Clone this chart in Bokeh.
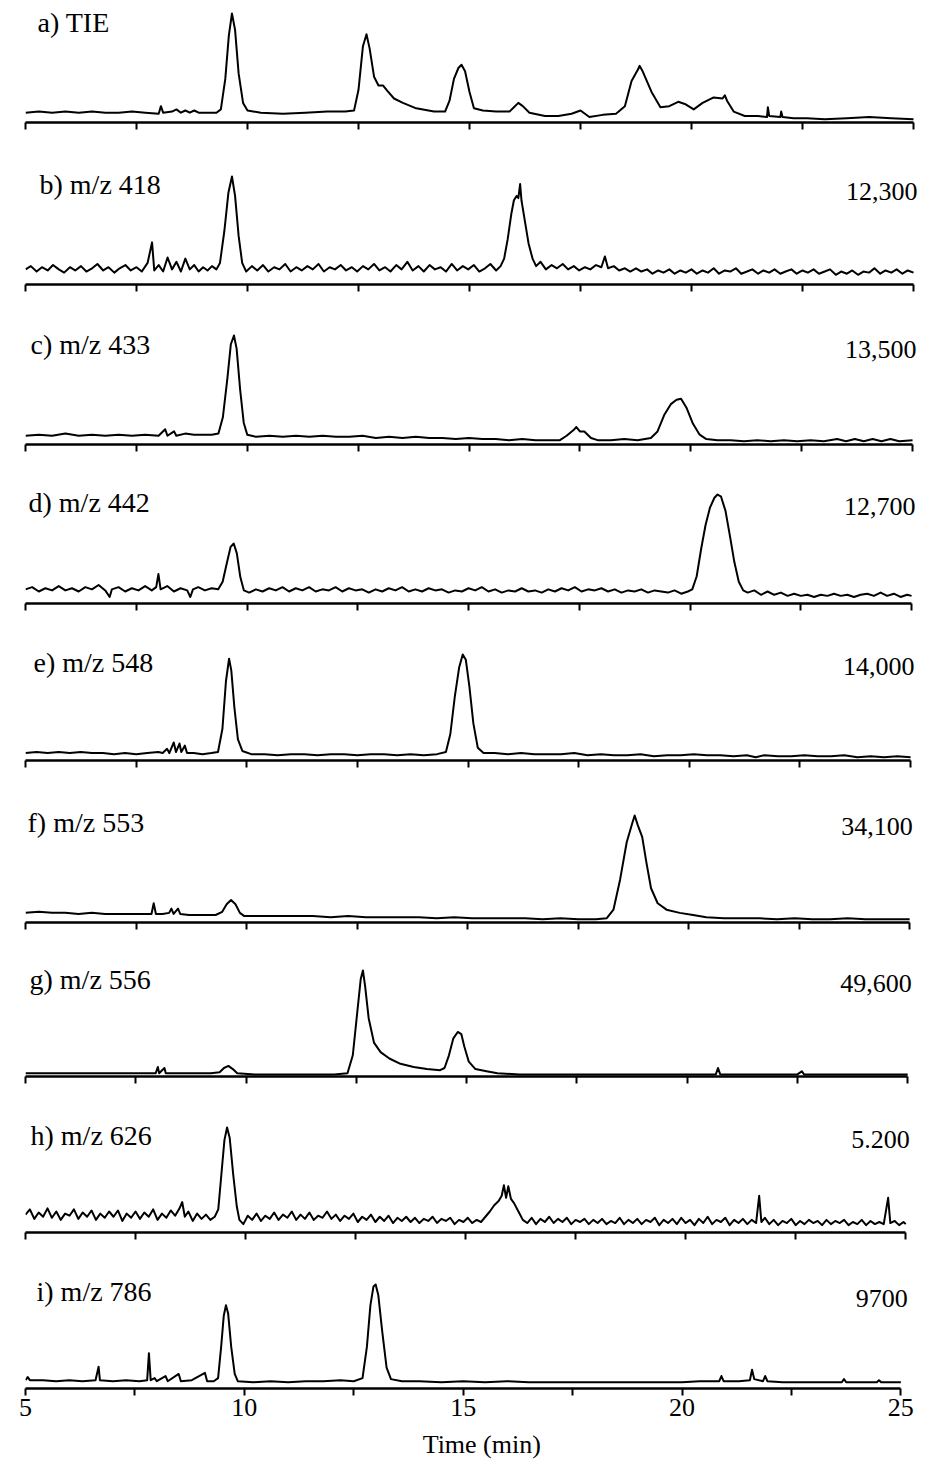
from bokeh.plotting import figure
from bokeh.layouts import column
from bokeh.models import Range1d, FixedTicker, Label
from bokeh.embed import file_html
from bokeh.resources import INLINE

# ---------------- data (relative intensity, % of tallest peak in each trace) ----------------
panel_labels = ["a) TIE", "b) m/z 418", "c) m/z 433", "d) m/z 442", "e) m/z 548",
                "f) m/z 553", "g) m/z 556", "h) m/z 626", "i) m/z 786"]
panel_counts = ["", "12,300", "13,500", "12,700", "14,000", "34,100", "49,600", "5.200", "9700"]
major_ticks = [5, 10, 15, 20, 25]
minor_ticks = [7.5, 12.5, 17.5, 22.5]
x_title = "Time (min)"

trace_a = [(5.0,9),(5.3,10),(5.6,9),(5.9,10),(6.2,9),(6.5,10),(6.8,9),(7.1,9),(7.4,10),(7.7,9),(8.0,8),(8.05,15),(8.1,9),(8.3,10),(8.4,12),(8.5,9),(8.6,11),(8.7,9),(8.8,11),(8.9,9),(9.1,9),(9.3,9),(9.4,12),(9.5,40),(9.58,80),(9.65,100),(9.72,85),(9.8,45),(9.9,18),(10.0,11),(10.3,9),(10.8,8),(11.3,9),(11.8,10),(12.2,10),(12.4,11),(12.5,30),(12.6,70),(12.68,81),(12.75,68),(12.85,42),(12.95,34),(13.05,34),(13.15,29),(13.3,22),(13.5,18),(13.8,13),(14.2,10),(14.45,10),(14.55,20),(14.65,40),(14.75,50),(14.82,53),(14.9,47),(15.0,28),(15.1,13),(15.3,11),(15.6,10),(15.9,10),(16.0,14),(16.1,18),(16.2,15),(16.35,9),(16.7,6),(17.0,6),(17.3,8),(17.5,11),(17.7,5),(18.0,7),(18.3,8),(18.5,15),(18.65,38),(18.8,49),(18.83,52),(18.9,47),(19.1,28),(19.3,14),(19.5,15),(19.7,19),(19.85,17),(20.05,12),(20.25,18),(20.5,23),(20.7,22),(20.75,25),(20.8,20),(20.95,10),(21.2,6),(21.5,6),(21.7,5),(21.72,14),(21.75,6),(22.0,5),(22.02,10),(22.05,5),(22.3,4),(22.6,4),(23.0,3),(23.5,4),(24.0,5),(24.5,4),(25.0,3)]

trace_b = [(5.0,14),(5.12,17),(5.25,12),(5.37,16),(5.5,13),(5.62,18),(5.75,14),(5.87,11),(6.0,16),(6.12,13),(6.25,17),(6.37,12),(6.5,15),(6.62,19),(6.75,13),(6.87,16),(7.0,11),(7.12,15),(7.25,18),(7.37,13),(7.5,16),(7.62,12),(7.75,20),(7.85,39),(7.9,13),(8.0,18),(8.1,12),(8.2,25),(8.3,14),(8.4,21),(8.5,12),(8.6,24),(8.7,14),(8.8,18),(8.9,12),(9.0,16),(9.1,13),(9.2,17),(9.3,14),(9.38,20),(9.48,50),(9.57,85),(9.65,100),(9.72,82),(9.8,45),(9.88,20),(9.97,12),(10.1,17),(10.22,13),(10.35,18),(10.47,12),(10.6,16),(10.72,14),(10.85,19),(10.97,12),(11.1,16),(11.22,13),(11.35,17),(11.47,14),(11.6,19),(11.72,12),(11.85,16),(11.97,14),(12.1,18),(12.22,13),(12.35,16),(12.47,12),(12.6,17),(12.72,14),(12.85,19),(12.97,13),(13.1,16),(13.22,12),(13.35,18),(13.47,14),(13.6,21),(13.72,13),(13.85,17),(13.97,12),(14.1,18),(14.22,14),(14.35,16),(14.47,12),(14.6,19),(14.72,13),(14.85,17),(14.97,14),(15.1,18),(15.22,12),(15.35,15),(15.47,19),(15.6,13),(15.7,17),(15.78,24),(15.86,42),(15.94,65),(16.0,78),(16.06,82),(16.1,80),(16.14,93),(16.17,78),(16.25,58),(16.33,38),(16.42,24),(16.5,17),(16.6,21),(16.72,14),(16.85,18),(16.97,15),(17.1,19),(17.22,14),(17.35,17),(17.47,13),(17.6,16),(17.72,14),(17.85,18),(17.97,16),(18.05,26),(18.12,15),(18.25,17),(18.37,13),(18.5,15),(18.62,12),(18.75,15),(18.87,12),(19.0,14),(19.12,10),(19.25,13),(19.37,11),(19.5,14),(19.62,10),(19.75,13),(19.87,11),(20.0,14),(20.12,10),(20.25,13),(20.37,11),(20.5,15),(20.62,10),(20.75,13),(20.87,12),(21.0,15),(21.12,10),(21.25,12),(21.37,14),(21.5,10),(21.62,13),(21.75,11),(21.87,14),(22.0,10),(22.12,12),(22.25,14),(22.37,10),(22.5,13),(22.62,11),(22.75,14),(22.87,10),(23.0,12),(23.12,14),(23.25,9),(23.37,12),(23.5,10),(23.62,13),(23.75,9),(23.87,12),(24.0,11),(24.12,15),(24.25,10),(24.37,13),(24.5,11),(24.62,14),(24.75,10),(24.87,13),(25.0,11)]

trace_c = [(5.0,8),(5.3,9),(5.6,8),(5.9,10),(6.2,8),(6.5,9),(6.8,8),(7.1,9),(7.4,8),(7.7,9),(8.0,8),(8.15,14),(8.2,8),(8.35,12),(8.4,8),(8.6,10),(8.8,9),(9.0,9),(9.2,9),(9.35,10),(9.45,25),(9.55,60),(9.63,92),(9.7,100),(9.76,88),(9.84,50),(9.92,20),(10.0,9),(10.2,7),(10.5,8),(10.8,7),(11.1,8),(11.4,7),(11.7,8),(12.0,7),(12.3,7),(12.6,8),(12.9,6),(13.2,7),(13.5,6),(13.8,7),(14.1,6),(14.4,6),(14.7,5),(15.0,6),(15.3,5),(15.6,5),(15.9,4),(16.2,5),(16.5,4),(16.8,4),(17.05,4),(17.2,8),(17.35,13),(17.42,16),(17.5,12),(17.6,12),(17.75,6),(17.9,4),(18.2,4),(18.5,5),(18.8,4),(19.1,6),(19.25,12),(19.4,27),(19.55,37),(19.68,41),(19.78,42),(19.9,34),(20.05,19),(20.2,9),(20.35,5),(20.6,4),(20.9,4),(21.2,3),(21.5,4),(21.8,3),(22.1,4),(22.4,3),(22.7,4),(23.0,3),(23.3,5),(23.5,3),(23.7,5),(23.9,3),(24.1,5),(24.3,3),(24.5,5),(24.7,3),(25.0,4)]

trace_d = [(5.0,13),(5.15,15),(5.3,11),(5.45,14),(5.6,12),(5.75,16),(5.9,12),(6.05,14),(6.2,11),(6.35,15),(6.5,13),(6.65,17),(6.8,12),(6.9,6),(6.95,13),(7.1,15),(7.25,11),(7.4,14),(7.55,12),(7.7,16),(7.85,12),(7.95,15),(8.0,27),(8.05,13),(8.2,16),(8.35,11),(8.5,14),(8.65,12),(8.72,6),(8.78,13),(8.9,15),(9.05,12),(9.2,14),(9.35,13),(9.45,20),(9.55,38),(9.63,52),(9.7,55),(9.77,46),(9.85,24),(9.93,12),(10.05,10),(10.2,13),(10.35,11),(10.5,14),(10.65,12),(10.8,15),(10.95,11),(11.1,14),(11.25,12),(11.4,15),(11.55,11),(11.7,13),(11.85,12),(12.0,15),(12.15,11),(12.3,14),(12.45,12),(12.6,13),(12.75,10),(12.9,13),(13.05,11),(13.2,14),(13.35,12),(13.5,15),(13.65,11),(13.8,13),(13.95,11),(14.1,14),(14.25,12),(14.4,13),(14.55,10),(14.7,12),(14.85,11),(15.0,14),(15.15,12),(15.3,15),(15.45,11),(15.6,13),(15.75,10),(15.9,12),(16.05,11),(16.2,14),(16.35,11),(16.5,12),(16.65,10),(16.8,13),(16.95,11),(17.1,14),(17.25,12),(17.4,15),(17.55,11),(17.7,13),(17.85,12),(18.0,14),(18.15,11),(18.3,13),(18.45,10),(18.6,12),(18.75,11),(18.9,13),(19.05,10),(19.2,12),(19.35,11),(19.5,10),(19.65,12),(19.8,9),(19.95,11),(20.05,13),(20.15,25),(20.25,50),(20.35,72),(20.45,88),(20.55,97),(20.62,100),(20.7,98),(20.8,85),(20.9,62),(21.0,38),(21.1,20),(21.2,12),(21.3,10),(21.45,12),(21.6,8),(21.75,11),(21.9,8),(22.05,10),(22.2,7),(22.35,9),(22.5,7),(22.65,8),(22.8,6),(22.95,8),(23.1,7),(23.25,9),(23.4,7),(23.55,8),(23.7,6),(23.85,8),(24.0,9),(24.15,7),(24.3,10),(24.45,7),(24.6,9),(24.75,6),(24.9,8),(25.0,7)]

trace_e = [(5.0,7),(5.25,8),(5.5,7),(5.75,8),(6.0,7),(6.25,8),(6.5,7),(6.75,7),(7.0,6),(7.25,7),(7.5,6),(7.75,7),(8.0,8),(8.1,7),(8.2,11),(8.25,7),(8.35,17),(8.4,8),(8.48,16),(8.52,8),(8.6,14),(8.65,7),(8.8,7),(9.0,6),(9.2,7),(9.35,8),(9.45,30),(9.53,75),(9.6,96),(9.65,85),(9.72,50),(9.8,20),(9.9,9),(10.1,6),(10.4,6),(10.7,5),(11.0,6),(11.3,6),(11.6,5),(11.9,6),(12.2,6),(12.5,5),(12.8,6),(13.1,6),(13.4,5),(13.7,6),(14.0,5),(14.3,6),(14.5,8),(14.6,25),(14.7,60),(14.8,88),(14.88,100),(14.95,95),(15.03,70),(15.12,35),(15.22,12),(15.35,7),(15.6,7),(15.9,6),(16.2,7),(16.5,6),(16.8,6),(17.1,6),(17.4,7),(17.7,5),(18.0,6),(18.3,5),(18.6,5),(18.9,6),(19.2,4),(19.5,5),(19.8,5),(20.1,6),(20.4,5),(20.7,5),(21.0,4),(21.3,5),(21.5,3),(21.7,5),(22.0,4),(22.3,4),(22.6,5),(22.9,4),(23.2,4),(23.5,5),(23.8,3),(24.1,4),(24.4,3),(24.7,4),(25.0,3)]

trace_f = [(5.0,9),(5.3,10),(5.6,9),(5.9,9),(6.2,8),(6.5,9),(6.8,8),(7.1,8),(7.4,8),(7.7,8),(7.85,8),(7.9,18),(7.95,8),(8.1,8),(8.25,9),(8.3,13),(8.35,8),(8.45,13),(8.5,8),(8.7,7),(8.9,7),(9.1,7),(9.3,7),(9.45,10),(9.55,17),(9.65,21),(9.75,17),(9.85,9),(9.95,6),(10.3,6),(10.7,6),(11.1,6),(11.5,6),(11.9,5),(12.3,6),(12.7,5),(13.1,5),(13.5,5),(13.9,5),(14.3,4),(14.7,5),(15.1,4),(15.5,4),(15.9,4),(16.3,4),(16.7,3),(17.1,4),(17.5,3),(17.9,3),(18.15,4),(18.3,12),(18.45,40),(18.6,75),(18.72,92),(18.78,100),(18.85,91),(18.95,80),(19.05,55),(19.15,32),(19.3,18),(19.5,12),(19.8,9),(20.1,7),(20.4,5),(20.8,4),(21.2,4),(21.6,4),(22.0,3),(22.4,4),(22.8,3),(23.2,3),(23.6,4),(24.0,3),(24.4,3),(24.8,3),(25.0,3)]

trace_g = [(5.0,3),(5.5,3),(6.0,3),(6.5,3),(7.0,3),(7.5,3),(7.95,3),(8.0,9),(8.03,3),(8.15,8),(8.18,3),(8.4,3),(8.8,3),(9.2,3),(9.4,4),(9.5,8),(9.6,10),(9.7,7),(9.8,3),(10.2,2),(10.8,2),(11.4,2),(12.0,2),(12.3,3),(12.42,20),(12.52,60),(12.6,92),(12.65,100),(12.7,85),(12.78,55),(12.9,32),(13.05,23),(13.25,17),(13.5,12),(13.8,9),(14.1,7),(14.4,6),(14.5,8),(14.6,20),(14.7,36),(14.8,42),(14.88,40),(14.95,28),(15.05,14),(15.2,7),(15.45,5),(15.7,3),(16.2,2),(16.8,2),(17.4,2),(18.0,2),(18.6,2),(19.2,2),(19.8,2),(20.4,2),(20.65,2),(20.7,8),(20.75,2),(21.2,2),(21.8,2),(22.5,2),(22.6,5),(22.65,2),(23.2,2),(23.8,2),(24.4,2),(25.0,2)]

trace_h = [(5.0,17),(5.1,22),(5.2,13),(5.3,19),(5.4,15),(5.5,23),(5.6,14),(5.7,20),(5.8,12),(5.9,18),(6.0,16),(6.1,22),(6.2,13),(6.3,19),(6.4,15),(6.5,21),(6.6,12),(6.7,18),(6.8,14),(6.9,20),(7.0,15),(7.1,21),(7.2,11),(7.3,18),(7.4,14),(7.5,20),(7.6,13),(7.7,19),(7.8,15),(7.9,22),(8.0,12),(8.1,18),(8.2,14),(8.3,21),(8.4,16),(8.5,23),(8.56,29),(8.62,15),(8.7,20),(8.8,11),(8.9,18),(9.0,13),(9.1,17),(9.2,12),(9.3,15),(9.38,22),(9.45,55),(9.52,88),(9.58,100),(9.64,90),(9.72,55),(9.8,25),(9.86,12),(9.95,8),(10.05,16),(10.15,12),(10.25,18),(10.35,11),(10.45,16),(10.55,13),(10.65,19),(10.75,12),(10.85,17),(10.95,14),(11.05,20),(11.15,12),(11.25,17),(11.35,13),(11.45,19),(11.55,12),(11.65,16),(11.75,14),(11.85,20),(11.95,13),(12.05,17),(12.15,11),(12.25,16),(12.35,13),(12.45,18),(12.55,10),(12.65,15),(12.75,12),(12.85,17),(12.95,10),(13.05,15),(13.15,11),(13.25,16),(13.35,9),(13.45,14),(13.55,11),(13.65,15),(13.75,10),(13.85,14),(13.95,9),(14.05,13),(14.15,11),(14.25,15),(14.35,9),(14.45,13),(14.55,11),(14.65,14),(14.75,8),(14.85,12),(14.95,10),(15.05,14),(15.15,9),(15.25,12),(15.35,10),(15.45,15),(15.55,20),(15.65,26),(15.75,30),(15.82,35),(15.87,45),(15.92,33),(15.97,44),(16.03,32),(16.1,28),(16.2,20),(16.3,12),(16.4,9),(16.5,14),(16.6,8),(16.7,13),(16.8,10),(16.9,15),(17.0,9),(17.1,13),(17.2,10),(17.3,14),(17.4,8),(17.5,12),(17.6,10),(17.7,13),(17.8,8),(17.9,12),(18.0,9),(18.1,13),(18.2,8),(18.3,11),(18.4,9),(18.5,14),(18.6,8),(18.7,12),(18.8,9),(18.9,13),(19.0,8),(19.1,12),(19.2,10),(19.3,14),(19.4,7),(19.5,12),(19.6,9),(19.7,13),(19.8,8),(19.9,14),(20.0,9),(20.1,12),(20.2,7),(20.3,13),(20.4,9),(20.5,15),(20.6,8),(20.7,12),(20.8,10),(20.9,14),(21.0,7),(21.1,12),(21.2,9),(21.3,13),(21.4,8),(21.5,12),(21.6,9),(21.67,35),(21.72,10),(21.8,14),(21.9,8),(22.0,12),(22.1,7),(22.2,11),(22.3,9),(22.4,13),(22.5,7),(22.6,11),(22.7,8),(22.8,12),(22.9,9),(23.0,11),(23.1,7),(23.2,12),(23.3,8),(23.4,11),(23.5,9),(23.6,12),(23.7,7),(23.8,10),(23.9,8),(24.0,12),(24.1,7),(24.2,11),(24.3,8),(24.4,10),(24.5,8),(24.6,33),(24.65,9),(24.75,11),(24.85,7),(24.95,10),(25.0,8)]

trace_i = [(5.0,8),(5.05,11),(5.1,8),(5.4,8),(5.7,7),(6.0,8),(6.3,7),(6.6,8),(6.67,21),(6.7,8),(7.0,7),(7.3,8),(7.6,7),(7.78,8),(7.82,34),(7.86,8),(7.95,10),(8.0,7),(8.2,12),(8.25,7),(8.5,14),(8.55,7),(8.8,8),(9.1,15),(9.15,7),(9.3,7),(9.4,10),(9.47,40),(9.53,70),(9.58,80),(9.63,72),(9.7,40),(9.78,14),(9.85,7),(10.2,6),(10.6,7),(11.0,6),(11.4,7),(11.8,7),(12.2,8),(12.5,7),(12.7,10),(12.8,40),(12.88,80),(12.95,98),(13.0,100),(13.06,90),(13.15,55),(13.25,20),(13.35,9),(13.6,7),(14.0,7),(14.5,6),(15.0,7),(15.5,6),(16.0,7),(16.5,6),(17.0,6),(17.5,6),(18.0,6),(18.5,6),(19.0,6),(19.5,6),(20.0,6),(20.4,7),(20.85,7),(20.9,12),(20.95,7),(21.3,7),(21.55,8),(21.6,18),(21.65,9),(21.85,7),(21.9,12),(21.95,7),(22.3,6),(22.8,6),(23.3,6),(23.65,6),(23.7,9),(23.75,6),(24.2,6),(24.45,6),(24.5,8),(24.55,6),(25.0,6)]

traces = [trace_a, trace_b, trace_c, trace_d, trace_e, trace_f, trace_g, trace_h, trace_i]

# ---------------- layout (pixels) ----------------
PAGE_W = 921
RIGHT_EDGE = 8 + PAGE_W
# fig height, border bottom, page x of t=5, page x of t=25, px height of 100 %,
# label x offset, label height above axis, count x offset, count height above axis
LAYOUT = [
    (142, 20, 33, 921, 109, 12, 100, 4, 95),
    (162, 20, 31, 921, 108, 14, 100, 4, 93),
    (158, 18, 28, 920, 109, 5, 100, 4, 95),
    (158, 17, 27, 919, 109, 3, 101, 4, 97),
    (162, 22, 25, 918, 106, 8, 98, 4, 94),
    (158, 18, 23, 917, 107, 2, 100, 3, 96),
    (154, 18, 21, 915, 106, 4, 97, 4, 93),
    (156, 18, 20, 913, 105, 5, 97, 4, 93),
    (178, 40, 17, 908, 104, 11, 97, 7, 90),
]
TITLE_H = 32
FONT = "Liberation Serif"

figs = []
n = len(traces)
all_ticks = sorted(major_ticks + minor_ticks)
for k, (tr, lay) in enumerate(zip(traces, LAYOUT)):
    fh, bb, fl, fr, peak_px, ldx, ldy, cdx, cdy = lay
    frame_h = fh - bb
    yend = 100.0 * frame_h / peak_px
    to_data = 100.0 / peak_px
    x_end = 25 + (RIGHT_EDGE - fr) * 20.0 / (fr - fl)
    last = (k == n - 1)
    p = figure(width=PAGE_W, height=fh, x_range=Range1d(5, x_end), y_range=Range1d(0, yend),
               output_backend="svg", toolbar_location=None, y_axis_type=None,
               min_border_left=fl - 8, min_border_right=0,
               min_border_top=0, min_border_bottom=bb,
               outline_line_color=None, background_fill_color="white",
               border_fill_color="white")
    p.grid.visible = False
    xs = [t for t, v in tr]
    ys = [v for t, v in tr]
    p.line(xs, ys, line_color="black", line_width=2, line_join="round")

    ax = p.xaxis[0]
    ax.bounds = (5, 25)
    if last:
        ax.ticker = FixedTicker(ticks=major_ticks, minor_ticks=minor_ticks)
        ax.major_label_text_font = FONT
        ax.major_label_text_font_size = "26px"
        ax.major_label_text_color = "black"
        ax.major_label_standoff = 3
    else:
        ax.ticker = FixedTicker(ticks=[], minor_ticks=all_ticks)
    ax.axis_line_width = 2.5
    ax.axis_line_color = "black"
    ax.major_tick_in = 0
    ax.major_tick_out = 7
    ax.minor_tick_in = 0
    ax.minor_tick_out = 7
    ax.major_tick_line_width = 2
    ax.minor_tick_line_width = 2
    ax.major_tick_line_color = "black"
    ax.minor_tick_line_color = "black"

    p.add_layout(Label(x=5, y=ldy * to_data, x_offset=ldx, text=panel_labels[k],
                       text_font=FONT, text_font_size="28px", text_color="black",
                       text_align="left", text_baseline="middle"))
    if panel_counts[k]:
        p.add_layout(Label(x=25, y=cdy * to_data, x_offset=cdx, text=panel_counts[k],
                           text_font=FONT, text_font_size="26px", text_color="black",
                           text_align="right", text_baseline="middle"))
    figs.append(p)

# axis title strip under the last panel
t = figure(width=PAGE_W, height=TITLE_H, x_range=Range1d(0, PAGE_W), y_range=Range1d(0, TITLE_H),
           output_backend="svg", toolbar_location=None, x_axis_type=None, y_axis_type=None,
           min_border=0, outline_line_color=None, background_fill_color="white",
           border_fill_color="white")
t.grid.visible = False
t.add_layout(Label(x=477 - 8, y=TITLE_H / 2, text=x_title, text_font=FONT,
                   text_font_size="26px", text_color="black",
                   text_align="center", text_baseline="middle"))
figs.append(t)

layout = column(*figs, spacing=0)
open("out.html", "w").write(file_html(layout, INLINE))
